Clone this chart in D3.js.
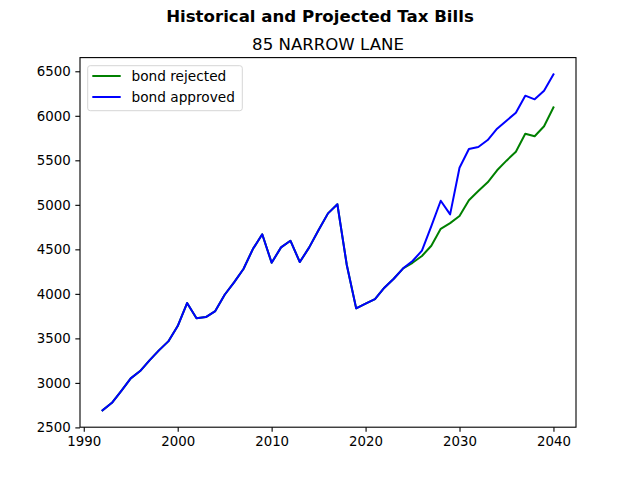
<!DOCTYPE html>
<html>
<head>
<meta charset="utf-8">
<script src="https://cdn.jsdelivr.net/npm/d3@7"></script>
<style>
  html, body { margin: 0; padding: 0; background: #fff; }
  svg { display: block; font-family: "DejaVu Sans", sans-serif; }
</style>
</head>
<body>
<svg id="chart" width="640" height="480"></svg>
<script>
// ---- data ----
const historyYears = [1992,1993,1994,1995,1996,1997,1998,1999,2000,2001,2002,2003,2004,2005,2006,2007,2008,2009,2010,2011,2012,2013,2014,2015,2016,2017,2018,2019,2020,2021,2022,2023,2024];
const historyValues = [2691,2776,2911,3051,3133,3253,3365,3466,3638,3897,3725,3739,3807,3990,4129,4279,4503,4669,4349,4522,4597,4357,4522,4717,4904,5006,4324,3837,3890,3942,4069,4170,4287];
const projYears = [2025,2026,2027,2028,2029,2030,2031,2032,2033,2034,2035,2036,2037,2038,2039,2040];
const rejectedProj = [4349,4425,4540,4731,4795,4874,5051,5155,5253,5388,5496,5597,5799,5770,5882,6095];
const approvedProj = [4369,4485,4760,5046,4893,5417,5627,5649,5728,5855,5945,6035,6226,6185,6282,6465];
const xTicks = [1990,2000,2010,2020,2030,2040];
const yTicks = [2500,3000,3500,4000,4500,5000,5500,6000,6500];
const seriesNames = ["bond rejected","bond approved"];
const seriesColors = ["#008000","#0000ff"];
const suptitle = "Historical and Projected Tax Bills";
const subtitle = "85 NARROW LANE";

// ---- build series ----
const years = historyYears.concat(projYears);
const rejected = historyValues.concat(rejectedProj);
const approved = historyValues.concat(approvedProj);
const series = [
  years.map((y,i)=>({x:y, v:rejected[i]})),
  years.map((y,i)=>({x:y, v:approved[i]}))
];

const W = 640, H = 480;
const L = 80, R = 576, T = 57.6, B = 427.2;

const xmin = d3.min(years), xmax = d3.max(years);
const xpad = (xmax-xmin)*0.05;
const allV = rejected.concat(approved);
const vmin = d3.min(allV), vmax = d3.max(allV);
const vpad = (vmax-vmin)*0.05;

const x = d3.scaleLinear().domain([xmin-xpad, xmax+xpad]).range([L, R]);
const y = d3.scaleLinear().domain([vmin-vpad, vmax+vpad]).range([B, T]);

const svg = d3.select("#chart");
svg.append("rect").attr("width",W).attr("height",H).attr("fill","#fff");

// lines
const line = d3.line().x(d=>x(d.x)).y(d=>y(d.v));
const plot = svg.append("g");
series.forEach((s,i)=>{
  plot.append("path").datum(s)
    .attr("d", line)
    .attr("fill","none")
    .attr("stroke", seriesColors[i])
    .attr("stroke-width", 2)
    .attr("stroke-linejoin","round")
    .attr("stroke-linecap","square");
});

// axes
const xAxis = d3.axisBottom(x).tickValues(xTicks).tickFormat(d3.format("d")).tickSizeOuter(0).tickSize(4.67).tickPadding(4.67);
const yAxis = d3.axisLeft(y).tickValues(yTicks).tickFormat(d3.format("d")).tickSizeOuter(0).tickSize(4.67).tickPadding(4.67);

const gx = svg.append("g").attr("transform",`translate(0,${B})`).call(xAxis);
const gy = svg.append("g").attr("transform",`translate(${L},0)`).call(yAxis);
[gx,gy].forEach(g=>{
  g.select(".domain").remove();
  g.selectAll(".tick line").attr("stroke","#000").attr("stroke-width",1.1);
  g.selectAll(".tick text").attr("fill","#000").attr("font-size","13.33px").attr("font-family","DejaVu Sans, sans-serif");
});

// frame (spines)
svg.append("rect").attr("x",L).attr("y",T).attr("width",R-L).attr("height",B-T)
  .attr("fill","none").attr("stroke","#000").attr("stroke-width",1.1);

// titles
svg.append("text").attr("x",W/2).attr("y",21.5).attr("text-anchor","middle")
  .attr("font-size","16.6px").attr("font-weight","bold").attr("fill","#000").text(suptitle);
svg.append("text").attr("x",(L+R)/2).attr("y",49.6).attr("text-anchor","middle")
  .attr("font-size","16.6px").attr("fill","#000").text(subtitle);

// legend
const lg = svg.append("g");
lg.append("rect").attr("x",87.7).attr("y",65.7).attr("width",154.6).attr("height",45)
  .attr("rx",2.5).attr("fill","#fff").attr("fill-opacity",0.8).attr("stroke","#d6d6d6").attr("stroke-width",1);
seriesNames.forEach((n,i)=>{
  const yy = 76 + i*21;
  lg.append("line").attr("x1",92.3).attr("x2",120.7).attr("y1",yy).attr("y2",yy)
    .attr("stroke",seriesColors[i]).attr("stroke-width",2);
  lg.append("text").attr("x",131.5).attr("y",yy+4.8).attr("font-size","13.7px").attr("fill","#000").text(n);
});
</script>
</body>
</html>
